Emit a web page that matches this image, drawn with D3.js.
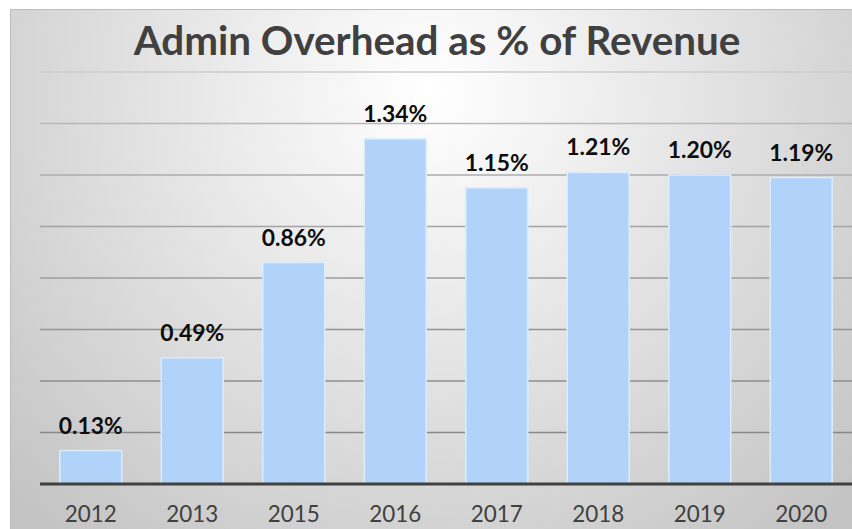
<!DOCTYPE html>
<html>
<head>
<meta charset="utf-8">
<script src="https://cdn.jsdelivr.net/npm/d3@7"></script>
<style>
  html, body { margin: 0; padding: 0; background: #ffffff; }
  svg { display: block; }
</style>
</head>
<body>
<svg id="chart" width="852" height="529"></svg>
<script>
const title = "Admin Overhead as % of Revenue";
const categories = ["2012", "2013", "2015", "2016", "2017", "2018", "2019", "2020"];
const values = [0.13, 0.49, 0.86, 1.34, 1.15, 1.21, 1.20, 1.19];
const gridTicks = [0, 0.2, 0.4, 0.6, 0.8, 1.0, 1.2, 1.4, 1.6];

const W = 852, H = 529;
const svg = d3.select("#chart");
const FONT = "Lato, 'DejaVu Sans', sans-serif";

// background
const defs = svg.append("defs");
const rg = defs.append("radialGradient").attr("id", "bg")
  .attr("gradientUnits", "userSpaceOnUse")
  .attr("cx", 430).attr("cy", 90).attr("r", 580);
rg.append("stop").attr("offset", 0).attr("stop-color", "#ffffff");
rg.append("stop").attr("offset", 0.35).attr("stop-color", "#ebebeb");
rg.append("stop").attr("offset", 1).attr("stop-color", "#c4c4c4");

svg.append("rect").attr("x", 10).attr("y", 9).attr("width", W - 10).attr("height", H - 9)
  .attr("fill", "url(#bg)");
svg.append("path").attr("d", `M10.5,${H} V9.5 H${W}`).attr("fill", "none")
  .attr("stroke", "#bdbdbd").attr("stroke-width", 1);

const margin = { left: 40, right: 0, top: 72, bottom: 45 };
const x = d3.scaleBand().domain(categories).range([margin.left, W - margin.right]).paddingInner(0.39).paddingOuter(0.195);
const y = d3.scaleLinear().domain([0, 1.6]).range([H - margin.bottom, margin.top]);

// gridlines
const gcol = d3.scaleLinear().domain([margin.top, y(0.2)]).range([0, 1]);
const gi = d3.interpolateRgb("#cdcdcd", "#888888");
svg.append("g").selectAll("line").data(gridTicks.filter(d => d > 0)).join("line")
  .attr("x1", margin.left).attr("x2", W)
  .attr("y1", d => y(d)).attr("y2", d => y(d))
  .attr("stroke", d => gi(Math.pow(Math.max(0, Math.min(1, gcol(y(d)))), 0.6)))
  .attr("stroke-width", 1.6);

// bars
svg.append("g").selectAll("rect").data(values).join("rect")
  .attr("x", (d, i) => x(categories[i]))
  .attr("y", d => y(d))
  .attr("width", x.bandwidth())
  .attr("height", d => y(0) - y(d))
  .attr("fill", "#b1d3f9")
  .attr("stroke", "#dcecfd")
  .attr("stroke-width", 1.5);

// axis
const xAxis = d3.axisBottom(x).tickSize(0).tickPadding(0);
const ax = svg.append("g").attr("transform", `translate(0,${y(0)})`).call(xAxis);
ax.select(".domain").remove();
svg.append("line").attr("x1", margin.left).attr("x2", W).attr("y1", y(0)).attr("y2", y(0))
  .attr("stroke", "#404040").attr("stroke-width", 3);

function fitSize(sel, target) {
  const w = sel.node().getComputedTextLength();
  const fs = parseFloat(sel.attr("font-size"));
  return fs * target / w;
}

ax.selectAll("text")
  .attr("font-family", FONT).attr("font-size", 20).attr("fill", "#404040")
  .attr("dy", 0).attr("y", 0);
let fsx = fitSize(ax.select("text"), 52);
ax.selectAll("text").attr("font-size", fsx).attr("y", 38);

// data labels
const lbl = svg.append("g").selectAll("text").data(values).join("text")
  .attr("x", (d, i) => x(categories[i]) + x.bandwidth() / 2)
  .attr("y", d => y(d) - 17)
  .attr("text-anchor", "middle")
  .attr("font-family", FONT).attr("font-weight", "bold").attr("font-size", 20)
  .attr("fill", "#0d0d0d")
  .text(d => d.toFixed(2) + "%");
const fsl = fitSize(d3.select(lbl.nodes()[3]), 64);
lbl.attr("font-size", fsl);

// title
const t = svg.append("text").attr("x", 437).attr("y", 55).attr("text-anchor", "middle")
  .attr("font-family", FONT).attr("font-weight", "bold").attr("font-size", 34)
  .attr("fill", "#404040").text(title);
t.attr("font-size", fitSize(t, 607));
</script>
</body>
</html>
